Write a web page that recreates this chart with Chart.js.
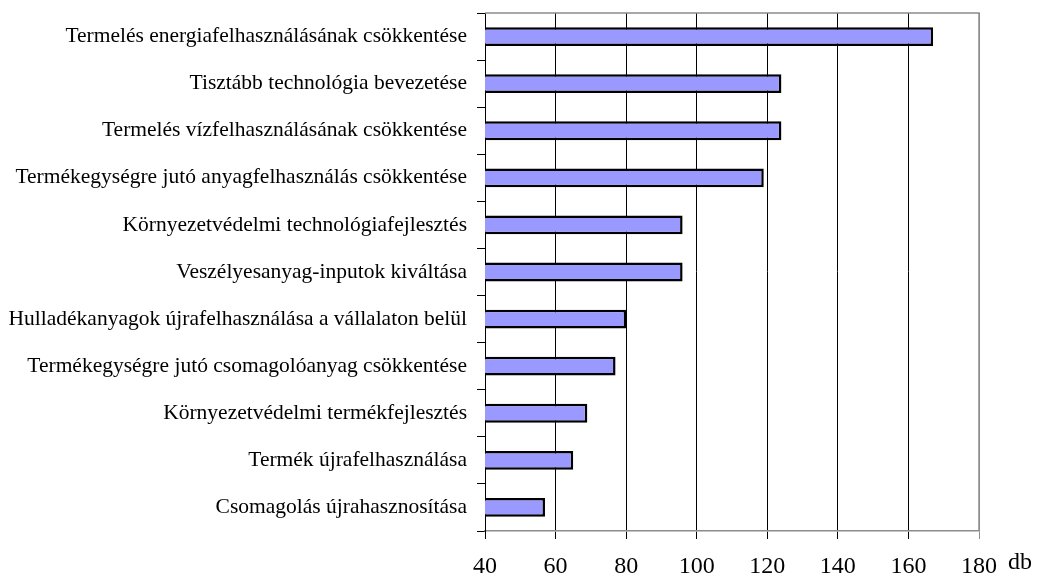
<!DOCTYPE html>
<html>
<head>
<meta charset="utf-8">
<script src="https://cdn.jsdelivr.net/npm/chart.js@4/dist/chart.umd.min.js"></script>
<style>
  html, body { margin: 0; padding: 0; background: #ffffff; }
  #wrap { width: 1037px; height: 577px; position: relative; }
</style>
</head>
<body>
<div id="wrap"><canvas id="c"></canvas></div>
<script>
const categories = [
  "Termelés energiafelhasználásának csökkentése",
  "Tisztább technológia bevezetése",
  "Termelés vízfelhasználásának csökkentése",
  "Termékegységre jutó anyagfelhasználás csökkentése",
  "Környezetvédelmi technológiafejlesztés",
  "Veszélyesanyag-inputok kiváltása",
  "Hulladékanyagok újrafelhasználása a vállalaton belül",
  "Termékegységre jutó csomagolóanyag csökkentése",
  "Környezetvédelmi termékfejlesztés",
  "Termék újrafelhasználása",
  "Csomagolás újrahasznosítása"
];
const values = [167, 124, 124, 119, 96, 96, 80, 77, 69, 65, 57];
const xMin = 40, xMax = 180, xStep = 20;
const unitLabel = "db";

const FONT = "'Liberation Serif', 'Times New Roman', serif";

const frame = {
  id: 'frame',
  afterDraw(chart) {
    const { ctx, chartArea: a } = chart;
    ctx.save();
    ctx.strokeStyle = '#8c8c8c';
    ctx.lineWidth = 1.5;
    ctx.beginPath();
    ctx.moveTo(a.left, a.top);
    ctx.lineTo(a.right, a.top);
    ctx.lineTo(a.right, a.bottom);
    ctx.stroke();
    ctx.fillStyle = '#000';
    ctx.font = "24px " + FONT;
    ctx.textAlign = 'left';
    ctx.textBaseline = 'middle';
    ctx.fillText(unitLabel, a.right + 29, a.bottom + 32);
    ctx.restore();
  }
};

new Chart(document.getElementById('c'), {
  type: 'bar',
  data: {
    labels: categories,
    datasets: [{
      data: values,
      backgroundColor: '#9999FF',
      borderColor: '#000000',
      borderWidth: 2.5,
      borderSkipped: false,
      barPercentage: 0.4,
      categoryPercentage: 1.0
    }]
  },
  options: {
    indexAxis: 'y',
    responsive: true,
    maintainAspectRatio: false,
    animation: false,
    layout: { padding: { top: 13, right: 58, left: 0, bottom: 0 } },
    plugins: { legend: { display: false }, tooltip: { enabled: false } },
    scales: {
      x: {
        min: xMin, max: xMax,
        ticks: { stepSize: xStep, color: '#000', font: { family: FONT, size: 24 }, padding: 13 },
        grid: {
          color: (c) => (c.tick && c.tick.value === xMax ? '#8c8c8c' : '#000'),
          lineWidth: 1,
          tickLength: 8,
          drawTicks: true
        },
        border: { color: '#8c8c8c', width: 1.5 },
        afterFit(s) { s.height = 46; s.paddingLeft = 0; s.paddingRight = 0; }
      },
      y: {
        ticks: { color: '#000', font: { family: FONT, size: 21.5 }, padding: 10 },
        grid: { drawOnChartArea: false, color: '#000', tickLength: 8, offset: true },
        border: { color: '#000', width: 1 },
        afterFit(s) { s.width = 485; s.paddingTop = 0; s.paddingBottom = 0; }
      }
    }
  },
  plugins: [frame]
});
</script>
</body>
</html>
